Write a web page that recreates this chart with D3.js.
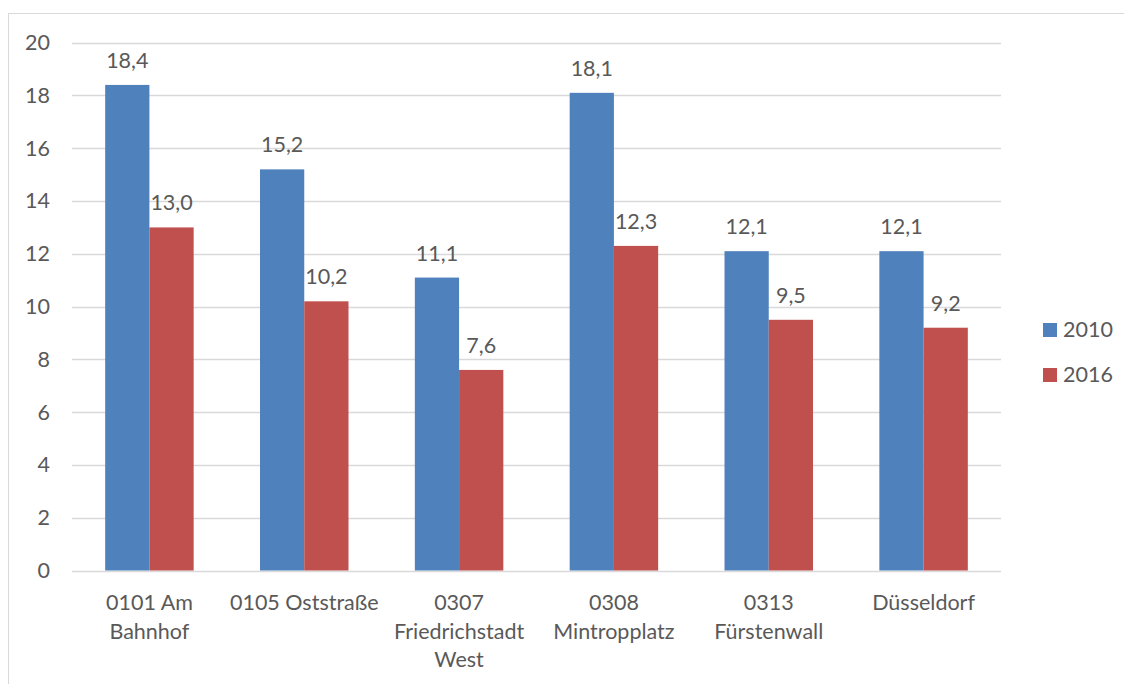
<!DOCTYPE html>
<html><head><meta charset="utf-8">
<script src="https://cdn.jsdelivr.net/npm/d3@7"></script>
<style>body{margin:0;background:#fff}svg{display:block}text{font-family:Lato,"Noto Sans",sans-serif;fill:#595959}</style>
</head><body><svg id="c" width="1124" height="684"></svg>
<script>
const categories = [["0101 Am","Bahnhof"],["0105 Oststraße"],["0307","Friedrichstadt","West"],["0308","Mintropplatz"],["0313","Fürstenwall"],["Düsseldorf"]];
const seriesNames = ["2010","2016"];
const values2010 = [18.4,15.2,11.1,18.1,12.1,12.1];
const values2016 = [13.0,10.2,7.6,12.3,9.5,9.2];
const yTicks = [0,2,4,6,8,10,12,14,16,18,20];
const colors = ["#4f81bd","#c0504d"];

const svg = d3.select("#c");
const fs = 21.5;
svg.append("rect").attr("x",8.5).attr("y",13.5).attr("width",1130).attr("height",700).attr("fill","none").attr("stroke","#d9d9d9");

const pLeft=72,pRight=1001,pTop=42.7,pBottom=570.5;
const idx = categories.map((d,i)=>i);
const x = d3.scaleBand().domain(idx).range([pLeft,pRight]).paddingInner(1.5/3.5).paddingOuter(0.75/3.5);
const xs = d3.scaleBand().domain(seriesNames).range([0,x.bandwidth()]);
const y = d3.scaleLinear().domain([0,20]).range([pBottom,pTop]);

// gridlines
svg.append("g").selectAll("line").data(yTicks).join("line")
 .attr("x1",pLeft).attr("x2",pRight).attr("y1",d=>Math.round(y(d))+0.5).attr("y2",d=>Math.round(y(d))+0.5)
 .attr("stroke","#d9d9d9").attr("stroke-width",1.3);

// y axis labels
const yAxis = d3.axisLeft(y).tickValues(yTicks).tickSize(0).tickPadding(0).tickFormat(d3.format("d"));
const ya = svg.append("g").attr("transform","translate(50,0)").call(yAxis);
ya.select(".domain").remove();
ya.selectAll("text").style("font-size",fs+"px").attr("fill","#595959").attr("font-family","Lato");

const series = [values2010, values2016];
series.forEach((vals,s)=>{
  const g = svg.append("g");
  g.selectAll("rect").data(vals).join("rect")
   .attr("x",(d,i)=>x(i)+xs(seriesNames[s]))
   .attr("y",d=>y(d)).attr("width",xs.bandwidth()).attr("height",d=>y(0)-y(d))
   .attr("fill",colors[s]);
  g.selectAll("text").data(vals).join("text")
   .attr("x",(d,i)=>x(i)+xs(seriesNames[s])+xs.bandwidth()/2)
   .attr("y",d=>y(d)-17).attr("text-anchor","middle").style("font-size",fs+"px")
   .text(d=>d3.format(".1f")(d).replace(".",","));
});

// x labels
const xl = svg.append("g");
categories.forEach((lines,i)=>{
  const t = xl.append("text").attr("text-anchor","middle").style("font-size",fs+"px");
  lines.forEach((ln,j)=>{
    t.append("tspan").attr("x",x(i)+x.bandwidth()/2).attr("y",610+j*28.5).text(ln);
  });
});

// legend
const lg = svg.append("g");
seriesNames.forEach((n,i)=>{
  lg.append("rect").attr("x",1043).attr("y",323+i*45).attr("width",14).attr("height",14).attr("fill",colors[i]);
  lg.append("text").attr("x",1063).attr("y",337+i*45).style("font-size",fs+"px").text(n);
});
</script></body></html>
